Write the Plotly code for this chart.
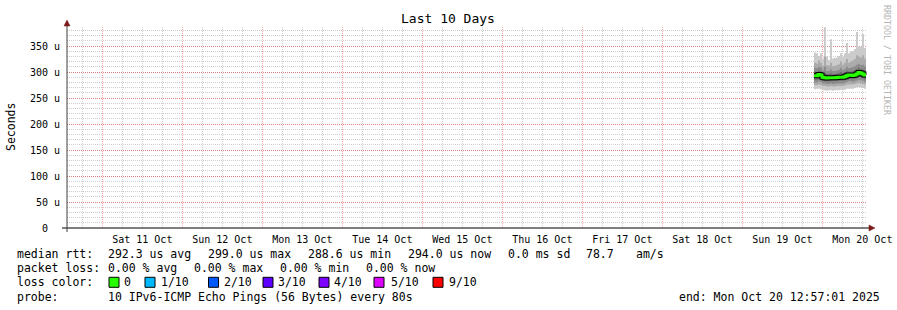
import plotly.graph_objects as go
import pandas as pd

# ---------------- data ----------------
day_labels = ["Sat 11 Oct", "Sun 12 Oct", "Mon 13 Oct", "Tue 14 Oct", "Wed 15 Oct",
              "Thu 16 Oct", "Fri 17 Oct", "Sat 18 Oct", "Sun 19 Oct", "Mon 20 Oct"]
day_label_pos = ["2025-10-11 12:00", "2025-10-12 12:00", "2025-10-13 12:00", "2025-10-14 12:00",
                 "2025-10-15 12:00", "2025-10-16 12:00", "2025-10-17 12:00", "2025-10-18 12:00",
                 "2025-10-19 12:00", "2025-10-20 12:00"]
y_tick_vals = [0, 50, 100, 150, 200, 250, 300, 350]
y_tick_text = ["0\u00a0\u00a0", "50 u", "100 u", "150 u", "200 u", "250 u", "300 u", "350 u"]

x_start = "2025-10-10 13:24:36"
x_end = "2025-10-20 13:24:36"
sample_start = "2025-10-19 21:30"
sample_step = "36min"

# rtt values in microseconds (sorted pings per sample, plus median)
rtt_median = [293, 293, 295, 294, 290, 289, 288.6, 289, 289, 289, 289, 289.5, 290,
              290, 290, 291, 293, 294, 294, 293.5, 294, 296, 299, 298, 296, 294]
rtt_max = [337, 336, 331, 336, 326, 386, 330, 323, 363, 326, 327, 328, 331,
           336, 330, 336, 356, 336, 339, 340, 344, 377, 349, 349, 373, 346]
rtt_p9 = [318, 316, 322, 318, 312, 330, 313, 312, 318, 311, 312, 313, 315,
          320, 314, 318, 325, 318, 320, 322, 325, 332, 330, 328, 332, 326]
rtt_p8 = [308, 307, 310, 308, 303, 310, 302, 302, 305, 302, 302, 303, 304,
          308, 304, 306, 310, 307, 308, 309, 311, 314, 316, 313, 314, 311]
rtt_p7 = [301, 300, 303, 301, 297, 298, 296, 296, 297, 296, 296, 297, 298,
          300, 298, 300, 302, 301, 301, 301, 303, 306, 308, 306, 305, 303]
rtt_p6 = [297, 296, 299, 298, 294, 293, 292, 292, 293, 292, 293, 293, 294,
          294, 294, 295, 297, 298, 298, 297, 298, 300, 303, 302, 300, 298]
rtt_p5 = [290, 290, 292, 291, 287, 286, 286, 286, 286, 286, 286, 287, 287,
          287, 287, 288, 290, 291, 291, 290, 291, 293, 296, 295, 293, 291]
rtt_p4 = [285, 285, 287, 286, 283, 282, 282, 282, 282, 282, 282, 283, 283,
          283, 283, 284, 286, 287, 287, 286, 287, 288, 291, 290, 288, 286]
rtt_p3 = [280, 280, 282, 281, 278, 278, 277, 277, 278, 277, 277, 278, 278,
          278, 278, 279, 281, 282, 282, 281, 282, 283, 285, 284, 283, 281]
rtt_p2 = [275, 275, 276, 275, 273, 273, 272, 272, 273, 272, 272, 273, 273,
          273, 273, 274, 276, 276, 276, 276, 277, 278, 279, 278, 277, 276]
rtt_min = [267, 268, 268, 267, 265, 265, 264, 265, 265, 264, 265, 265, 265,
           266, 265, 266, 268, 268, 268, 268, 269, 270, 271, 270, 269, 268]

stat_rtt = ["292.3 us avg", "299.0 us max", "288.6 us min", "294.0 us now", "0.0 ms sd"]
stat_amps = ["78.7", "am/s"]
stat_loss = ["0.00 % avg", "0.00 % max", "0.00 % min", "0.00 % now"]
loss_labels = ["0", "1/10", "2/10", "3/10", "4/10", "5/10", "9/10"]
loss_colors = ["#26ff00", "#00b8ff", "#0059ff", "#5e00ff", "#7e00ff", "#dd00ff", "#ff0000"]
probe_text = "10 IPv6-ICMP Echo Pings (56 Bytes) every 80s"
end_text = "end: Mon Oct 20 12:57:01 2025"
title_text = "Last 10 Days"
ylabel_text = "Seconds"
watermark = "RRDTOOL / TOBI OETIKER"

# ---------------- figure ----------------
W, H = 897, 310
L, R, T, B = 67, 30, 27, 82
PW, PH = W - L - R, H - T - B
MONO = "DejaVu Sans Mono"


def px(x):
    return (x - L) / PW


def py(y):
    return (T + PH - y) / PH


times = pd.date_range(sample_start, periods=len(rtt_median) + 1, freq=sample_step)


def ext(v):
    return list(v) + [v[-1]]


fig = go.Figure()
bands = [(rtt_min, rtt_max, "#cbcbcb"), (rtt_p2, rtt_p9, "#ababab"),
         (rtt_p3, rtt_p8, "#8c8c8c"), (rtt_p4, rtt_p7, "#6e6e6e"),
         (rtt_p5, rtt_p6, "#555555")]
for lo, hi, col in bands:
    fig.add_trace(go.Scatter(x=times, y=ext(lo), mode="lines", line=dict(width=0, shape="hv"),
                             hoverinfo="skip", showlegend=False))
    fig.add_trace(go.Scatter(x=times, y=ext(hi), mode="lines", line=dict(width=0, shape="hv"),
                             fill="tonexty", fillcolor=col, hoverinfo="skip", showlegend=False))
fig.add_trace(go.Scatter(x=times, y=ext(rtt_median), mode="lines",
                         line=dict(color="#000000", width=5, shape="hv"),
                         hoverinfo="skip", showlegend=False))
fig.add_trace(go.Scatter(x=times, y=ext(rtt_median), mode="lines",
                         line=dict(color=loss_colors[0], width=3, shape="hv"),
                         hoverinfo="skip", showlegend=False))
# dummy trace to carry the label axis
fig.add_trace(go.Scatter(x=[times[0]], y=[None], xaxis="x2", mode="markers",
                         hoverinfo="skip", showlegend=False))

MAJ = "rgba(255,0,0,0.36)"
MIN = "rgba(120,120,120,0.36)"
fig.update_layout(
    width=W, height=H, margin=dict(l=L, r=R, t=T, b=B, pad=0, autoexpand=False),
    autosize=False,
    paper_bgcolor="white", plot_bgcolor="white", showlegend=False,
    font=dict(family=MONO, size=10, color="black"),
    xaxis=dict(type="date", range=[x_start, x_end], showticklabels=False,
               tick0="2025-10-11", dtick=86400000, ticks="",
               showgrid=True, gridcolor=MAJ, griddash="1px,1px", gridwidth=1,
               minor=dict(dtick=6 * 3600000, tick0="2025-10-11", showgrid=True,
                          gridcolor=MIN, griddash="1px,1px", gridwidth=1),
               showline=False, zeroline=False, layer="above traces", fixedrange=True,
               automargin=False),
    xaxis2=dict(type="date", range=[x_start, x_end], overlaying="x", anchor="y", side="bottom",
                tickmode="array", tickvals=day_label_pos, ticktext=day_labels,
                showgrid=False, showline=False, zeroline=False, ticks="",
                tickfont=dict(family=MONO, size=10, color="black"), ticklabelstandoff=4,
                fixedrange=True, automargin=False),
    yaxis=dict(range=[0, PH * 50 / 26], tickmode="array", tickvals=y_tick_vals,
               ticktext=y_tick_text, ticks="", ticklabelstandoff=6,
               tickfont=dict(family=MONO, size=10, color="black"),
               showgrid=True, gridcolor=MAJ, griddash="1px,1px", gridwidth=1,
               minor=dict(dtick=10, showgrid=True, gridcolor=MIN, griddash="1px,1px"),
               showline=False, zeroline=False, layer="above traces", fixedrange=True,
               automargin=False),
)

shapes = []
# axis lines with arrows
shapes.append(dict(type="line", xref="paper", yref="paper", x0=px(62), x1=px(870),
                   y0=py(228), y1=py(228), line=dict(color="black", width=1), layer="above"))
shapes.append(dict(type="line", xref="paper", yref="paper", x0=px(67), x1=px(67),
                   y0=py(232), y1=py(24), line=dict(color="#404040", width=1), layer="above"))
shapes.append(dict(type="path", xref="paper", yref="paper",
                   path=f"M {px(869)} {py(225)} L {px(875)} {py(228)} L {px(869)} {py(231)} Z",
                   fillcolor="#7a1a1a", line=dict(color="#7a1a1a", width=0.5), layer="above"))
shapes.append(dict(type="path", xref="paper", yref="paper",
                   path=f"M {px(64)} {py(26)} L {px(67)} {py(20)} L {px(70)} {py(26)} Z",
                   fillcolor="#7a1a1a", line=dict(color="#7a1a1a", width=0.5), layer="above"))

ann = []


def text(x, y, s, size=11.5, color="black", xanchor="left", angle=0):
    ann.append(dict(x=px(x), y=py(y), xref="paper", yref="paper", text=s, showarrow=False,
                    xanchor=xanchor, yanchor="middle", textangle=angle,
                    font=dict(family=MONO, size=size, color=color), borderpad=0))


text(448, 19, title_text, size=13, xanchor="center")
text(11, 127, ylabel_text, size=11.5, xanchor="center", angle=-90)
text(887, 60, watermark, size=8.3, color="#b4b4b4", xanchor="center", angle=90)

row_y = [254, 268.3, 282.3, 296.5]
text(16, row_y[0], "median rtt:")
for xx, s in zip([107, 207, 307, 407, 507], stat_rtt):
    text(xx, row_y[0], s)
text(585, row_y[0], stat_amps[0])
text(635, row_y[0], stat_amps[1])

text(16, row_y[1], "packet loss:")
for xx, s in zip([107, 193, 279, 365], stat_loss):
    text(xx, row_y[1], s)

text(16, row_y[2], "loss color:")
box_x = [109, 145, 208.5, 263, 319, 374, 433]
lab_x = [123, 159.5, 223, 277, 333, 389.5, 447.5]
for bx, lx, lab, col in zip(box_x, lab_x, loss_labels, loss_colors):
    shapes.append(dict(type="rect", xref="paper", yref="paper", x0=px(bx), x1=px(bx + 10),
                       y0=py(row_y[2] + 5), y1=py(row_y[2] - 5), fillcolor=col,
                       line=dict(color="black", width=1)))
    text(lx, row_y[2], lab)

text(16, row_y[3], "probe:")
text(107, row_y[3], probe_text)
text(678, row_y[3], end_text)

fig.update_layout(shapes=shapes, annotations=ann)
fig.write_html("out.html", config=dict(displayModeBar=False))
